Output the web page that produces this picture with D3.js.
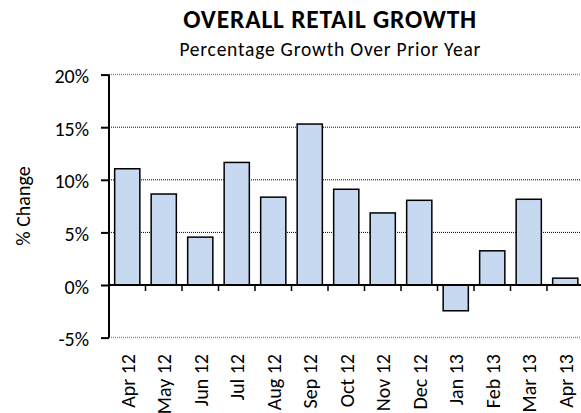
<!DOCTYPE html>
<html>
<head>
<meta charset="utf-8">
<script src="https://d3js.org/d3.v7.min.js"></script>
<style>
    body { margin: 0; background: #fff; }
    text { font-family: Carlito, Calibri, Lato, sans-serif; fill: #000; }
</style>
</head>
<body>
<div id="main"></div>
<script>
var months = ["Apr 12", "May 12", "Jun 12", "Jul 12", "Aug 12", "Sep 12", "Oct 12",
    "Nov 12", "Dec 12", "Jan 13", "Feb 13", "Mar 13", "Apr 13"];
var growth = [11.05, 8.65, 4.55, 11.65, 8.35, 15.3, 9.1, 6.85, 8.05, -2.45, 3.25, 8.15, 0.65];
var yTicks = [-5, 0, 5, 10, 15, 20];

var ctx = {
    w: 581,
    h: 413,
    left: 109,
    right: 583.5,
    top: 74.6,
    bottom: 337.6,
};

var createViz = function () {
    var svg = d3.select("#main").append("svg")
        .attr("width", ctx.w)
        .attr("height", ctx.h);

    var x = d3.scaleBand()
        .domain(months)
        .range([ctx.left, ctx.right])
        .paddingInner(0.31)
        .paddingOuter(0.155);
    var y = d3.scaleLinear().domain([-5, 20]).range([ctx.bottom, ctx.top]);

    // titles
    svg.append("text")
        .attr("x", 329.7).attr("y", 28.3)
        .attr("text-anchor", "middle")
        .attr("textLength", 293)
        .style("font-size", "25.5px").style("font-weight", "bold")
        .text("OVERALL RETAIL GROWTH");
    svg.append("text")
        .attr("x", 329.9).attr("y", 56.2)
        .attr("text-anchor", "middle")
        .attr("textLength", 301)
        .style("font-size", "19.5px")
        .text("Percentage Growth Over Prior Year");

    // gridlines
    svg.append("g").selectAll("line")
        .data(yTicks.filter(d => d != 0))
        .enter().append("line")
        .attr("x1", ctx.left).attr("x2", ctx.w)
        .attr("y1", d => y(d)).attr("y2", d => y(d))
        .attr("stroke", d => (d == 20 || d == -5) ? "#8c8c8c" : "#000")
        .attr("stroke-width", d => (d == 20 || d == -5) ? 1.5 : 1)
        .attr("stroke-dasharray", "1,1");

    // bars
    svg.append("g").selectAll("rect")
        .data(growth)
        .enter().append("rect")
        .attr("x", (d, i) => x(months[i]))
        .attr("width", x.bandwidth())
        .attr("y", d => y(Math.max(0, d)))
        .attr("height", d => Math.abs(y(d) - y(0)))
        .attr("fill", "#c6d9f1")
        .attr("stroke", "#000")
        .attr("stroke-width", 1.5);

    // y axis
    var yAxis = svg.append("g")
        .attr("transform", "translate(" + ctx.left + ",0)")
        .call(d3.axisLeft(y).tickValues(yTicks).tickSize(8).tickPadding(12)
            .tickFormat(d => d + "%"));
    yAxis.select(".domain").attr("stroke-width", 2).attr("d", "M0," + ctx.top + "V" + ctx.bottom);
    yAxis.selectAll(".tick line").attr("stroke-width", 2);
    yAxis.selectAll(".tick text").style("font-size", "20px").attr("dy", "0.4em").attr("fill", "#000");

    // x axis at zero
    var step = x.step();
    var xAxis = svg.append("g")
        .attr("transform", "translate(0," + y(0) + ")");
    xAxis.append("line")
        .attr("x1", ctx.left).attr("x2", ctx.w)
        .attr("stroke", "#000").attr("stroke-width", 2);
    xAxis.selectAll(".tk")
        .data(months.slice(1))
        .enter().append("line")
        .attr("x1", d => x(d) - step * 0.155)
        .attr("x2", d => x(d) - step * 0.155)
        .attr("y1", 0).attr("y2", 6)
        .attr("stroke", "#000").attr("stroke-width", 1.5);

    // category labels
    svg.append("g").selectAll("text")
        .data(months)
        .enter().append("text")
        .attr("transform", d => "translate(" + (x(d) + x.bandwidth() / 2) + ",354) rotate(-90)")
        .attr("text-anchor", "end")
        .attr("dy", "0.38em")
        .style("font-size", "20px")
        .text(d => d);

    svg.append("text")
        .attr("transform", "translate(22,206) rotate(-90)")
        .attr("text-anchor", "middle")
        .attr("dy", "0.38em")
        .style("font-size", "20px")
        .text("% Change");
};

createViz();
</script>
</body>
</html>
